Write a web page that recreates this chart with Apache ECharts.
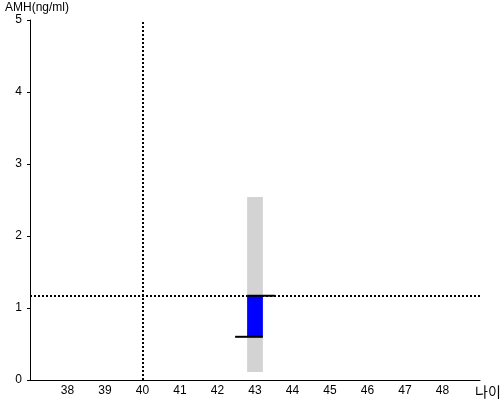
<!DOCTYPE html>
<html>
<head>
<meta charset="utf-8">
<script src="https://cdn.jsdelivr.net/npm/echarts@6/dist/echarts.min.js"></script>
<style>html,body{margin:0;padding:0;background:#fff}#c{width:500px;height:400px}</style>
</head>
<body>
<div id="c"></div>
<script>
// Data
var ages = [43];
var amhValues = [1.17];
var amhLower = [0.6];
var rangeLow = [0.11];
var rangeHigh = [2.54];
var refAge = 40;
var refAmh = 1.17;
var xTicks = [38, 39, 40, 41, 42, 43, 44, 45, 46, 47, 48];
var yTicks = [0, 1, 2, 3, 4, 5];

var barHalf = 0.21;
var capExt = 0.32;
var font = 'Liberation Sans, Arial, sans-serif';

var chart = echarts.init(document.getElementById('c'));
var rangeData = ages.map(function (a, i) { return [a, rangeLow[i], rangeHigh[i]]; });
var amhData = ages.map(function (a, i) { return [a, amhLower[i], amhValues[i]]; });

chart.setOption({
  animation: false,
  grid: { left: 30, right: 20, top: 20, bottom: 20, containLabel: false, outerBoundsMode: 'none' },
  xAxis: {
    type: 'value', min: 37, max: 49, interval: 1,
    name: '나이', nameLocation: 'end', nameGap: -5,
    nameTextStyle: { color: '#000', fontSize: 14, fontFamily: 'Noto Sans CJK KR, sans-serif', align: 'left', verticalAlign: 'top', padding: [5, 0, 0, 0] },
    axisLine: { lineStyle: { color: '#000', width: 1 } },
    axisTick: { show: false },
    splitLine: { show: false },
    axisLabel: {
      color: '#000', fontSize: 12, fontFamily: font, margin: 5,
      showMinLabel: false, showMaxLabel: false,
      formatter: function (v) { return xTicks.indexOf(v) >= 0 ? String(v) : ''; }
    }
  },
  yAxis: {
    type: 'value', min: 0, max: 5, interval: 1,
    name: 'AMH(ng/ml)', nameLocation: 'end', nameGap: 6,
    nameTextStyle: { color: '#000', fontSize: 12, fontFamily: font, align: 'left', padding: [0, 0, 0, -25] },
    axisLine: { show: true, lineStyle: { color: '#000', width: 1 } },
    axisTick: { show: true, length: 3, lineStyle: { color: '#000' } },
    splitLine: { show: false },
    axisLabel: {
      color: '#000', fontSize: 12, fontFamily: font, margin: 8,
      formatter: function (v) { return yTicks.indexOf(v) >= 0 ? String(v) : ''; }
    }
  },
  series: [
    {
      type: 'custom', z: 2,
      data: rangeData,
      renderItem: function (params, api) {
        var p1 = api.coord([api.value(0) - barHalf, api.value(2)]);
        var p2 = api.coord([api.value(0) + barHalf, api.value(1)]);
        return { type: 'rect', shape: { x: p1[0], y: p1[1], width: p2[0] - p1[0], height: p2[1] - p1[1] }, style: { fill: '#d3d3d3' } };
      },
      markLine: {
        silent: true, symbol: 'none', z: 1,
        label: { show: false },
        lineStyle: { color: '#000', width: 2, type: [2, 2] },
        data: [{ xAxis: refAge }, { yAxis: refAmh }]
      }
    },
    {
      type: 'custom', z: 3,
      data: amhData,
      renderItem: function (params, api) {
        var x = api.value(0), lo = api.value(1), hi = api.value(2);
        var p1 = api.coord([x - barHalf, hi]);
        var p2 = api.coord([x + barHalf, lo]);
        var t1 = api.coord([x - barHalf, hi]);
        var t2 = api.coord([x + barHalf + capExt, hi]);
        var b1 = api.coord([x - barHalf - capExt, lo]);
        var b2 = api.coord([x + barHalf, lo]);
        return {
          type: 'group',
          children: [
            { type: 'rect', shape: { x: p1[0], y: p1[1], width: p2[0] - p1[0], height: p2[1] - p1[1] }, style: { fill: '#0000ff' } },
            { type: 'line', shape: { x1: t1[0], y1: t1[1], x2: t2[0], y2: t2[1] }, style: { stroke: '#000', lineWidth: 2 } },
            { type: 'line', shape: { x1: b1[0], y1: b1[1], x2: b2[0], y2: b2[1] }, style: { stroke: '#000', lineWidth: 2 } }
          ]
        };
      }
    }
  ]
});
</script>
</body>
</html>
